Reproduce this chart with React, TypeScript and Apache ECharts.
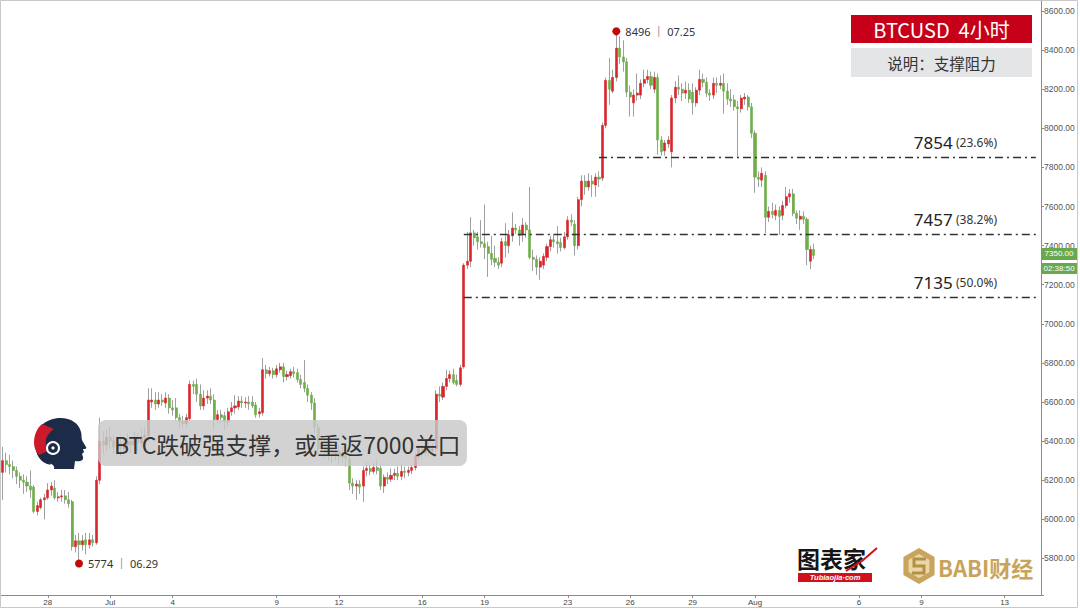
import { useEffect, useRef } from 'react';
import * as echarts from 'echarts';

// ---- data ----
const startTimeUTC = Date.UTC(2018, 5, 25, 20); // first 4h slot: Jun 25 20:00
const slotCount = 300;
const xTickDates = ['06-28', '07-01', '07-04', '07-09', '07-12', '07-16', '07-19', '07-23', '07-26', '07-29', '08-01', '08-06', '08-09', '08-13'];
const xTickLabels = ['28', 'Jul', '4', '9', '12', '16', '19', '23', '26', '29', 'Aug', '6', '9', '13'];

// [open, close, low, high] per 4-hour candle
const candles = [
  [6240,6300,6100,6370],[6300,6280,6240,6340],[6280,6270,6230,6330],[6270,6250,6210,6300],[6250,6220,6180,6270],[6220,6200,6160,6240],
  [6200,6190,6130,6230],[6190,6170,6140,6220],[6170,6150,6110,6250],[6165,6040,6030,6175],[6040,6070,6020,6090],[6060,6100,6050,6110],
  [6100,6110,6000,6130],[6110,6150,6100,6185],[6150,6170,6120,6190],[6160,6110,6100,6200],[6110,6115,6090,6140],[6115,6120,6090,6150],
  [6120,6100,6080,6150],[6100,6080,6060,6140],[6090,5860,5840,6100],[5860,5890,5830,5920],[5890,5870,5774,5930],[5870,5890,5840,5920],
  [5895,5870,5820,5930],[5870,5895,5850,5930],[5895,5880,5860,5920],[5880,6200,5870,6220],[6200,6400,6180,6520],[6400,6380,6330,6450],
  [6380,6420,6350,6460],[6420,6400,6360,6470],[6400,6370,6340,6430],[6370,6390,6330,6420],[6390,6360,6320,6420],[6360,6380,6330,6410],
  [6380,6400,6350,6440],[6400,6380,6340,6420],[6380,6410,6360,6450],[6410,6390,6350,6440],[6390,6420,6370,6460],[6420,6430,6380,6470],
  [6430,6610,6400,6670],[6600,6610,6570,6670],[6610,6590,6560,6650],[6590,6610,6570,6650],[6610,6600,6580,6640],[6595,6620,6570,6650],
  [6620,6570,6540,6640],[6570,6560,6530,6610],[6570,6520,6510,6620],[6520,6500,6465,6540],[6500,6490,6470,6530],[6490,6520,6470,6540],
  [6515,6690,6500,6710],[6690,6680,6640,6710],[6690,6640,6600,6720],[6640,6580,6560,6690],[6580,6620,6560,6660],[6620,6630,6590,6660],
  [6630,6610,6590,6670],[6610,6510,6455,6640],[6510,6535,6490,6560],[6535,6520,6490,6560],[6530,6500,6460,6550],[6500,6550,6480,6570],
  [6550,6570,6530,6600],[6570,6580,6540,6635],[6575,6605,6560,6630],[6605,6595,6570,6630],[6595,6600,6570,6625],[6600,6590,6560,6630],
  [6600,6580,6570,6630],[6585,6535,6520,6600],[6540,6550,6520,6570],[6545,6765,6530,6825],[6765,6745,6720,6790],[6745,6760,6730,6780],
  [6760,6740,6720,6775],[6740,6770,6725,6790],[6765,6780,6750,6800],[6780,6730,6700,6800],[6730,6740,6710,6760],[6735,6755,6720,6770],
  [6755,6745,6725,6780],[6750,6715,6700,6770],[6715,6690,6670,6740],[6700,6670,6650,6815],[6670,6635,6600,6690],[6635,6595,6560,6650],
  [6595,6470,6440,6620],[6470,6360,6330,6490],[6360,6390,6320,6420],[6390,6340,6310,6410],[6340,6360,6300,6390],[6360,6330,6290,6400],
  [6330,6350,6300,6380],[6350,6320,6280,6380],[6320,6340,6290,6370],[6340,6310,6270,6360],[6310,6185,6150,6330],[6185,6170,6130,6210],
  [6170,6180,6100,6200],[6180,6165,6130,6200],[6170,6250,6090,6270],[6250,6260,6220,6290],[6260,6245,6225,6280],[6245,6265,6230,6290],
  [6265,6250,6230,6300],[6260,6170,6150,6280],[6170,6215,6135,6230],[6215,6205,6180,6240],[6205,6225,6190,6260],[6225,6235,6200,6260],
  [6235,6220,6200,6270],[6220,6245,6200,6280],[6245,6240,6210,6270],[6240,6250,6220,6270],[6250,6265,6230,6280],[6265,6320,6250,6340],
  [6320,6360,6300,6380],[6360,6340,6310,6380],[6340,6370,6320,6400],[6370,6350,6320,6400],[6350,6360,6330,6390],[6360,6640,6340,6660],
  [6640,6630,6600,6680],[6625,6680,6610,6700],[6680,6720,6660,6765],[6720,6740,6700,6760],[6740,6700,6690,6770],[6710,6690,6680,6740],
  [6690,6775,6680,6790],[6780,7300,6770,7310],[7300,7320,7280,7470],[7320,7465,7290,7545],[7465,7440,7400,7480],[7445,7420,7380,7470],
  [7420,7410,7390,7530],[7410,7390,7330,7610],[7395,7360,7240,7420],[7360,7330,7300,7450],[7335,7315,7290,7400],[7315,7300,7280,7340],
  [7310,7420,7290,7440],[7420,7400,7340,7515],[7400,7455,7360,7480],[7450,7490,7420,7570],[7490,7480,7460,7510],[7480,7450,7400,7500],
  [7455,7505,7420,7540],[7505,7480,7440,7520],[7480,7340,7330,7700],[7340,7330,7270,7380],[7330,7290,7250,7350],[7290,7320,7225,7340],
  [7300,7345,7280,7360],[7340,7395,7320,7410],[7395,7430,7370,7450],[7430,7420,7390,7460],[7420,7410,7360,7500],[7415,7390,7370,7440],
  [7390,7445,7380,7470],[7445,7530,7430,7550],[7530,7520,7500,7560],[7510,7400,7350,7530],[7400,7635,7380,7650],[7635,7730,7600,7760],
  [7730,7700,7660,7760],[7700,7730,7680,7770],[7730,7715,7650,7760],[7710,7750,7650,7770],[7750,7740,7700,7780],[7745,8015,7730,8030],
  [8015,8245,8000,8260],[8245,8200,8120,8360],[8190,8260,8180,8300],[8260,8410,8240,8496],[8410,8365,8330,8470],[8365,8340,8290,8450],
  [8340,8185,8160,8360],[8185,8160,8060,8220],[8130,8170,8060,8200],[8170,8180,8140,8280],[8170,8230,8150,8250],[8230,8250,8210,8300],
  [8250,8265,8230,8300],[8265,8220,8200,8290],[8200,8260,8180,8290],[8260,7940,7865,8280],[7940,7880,7860,7960],[7885,7925,7860,7940],
  [7920,7940,7900,7960],[7880,8155,7800,8170],[8155,8210,8130,8240],[8210,8200,8170,8270],[8200,8180,8140,8230],[8180,8195,8150,8240],
  [8195,8150,8130,8230],[8185,8130,8070,8230],[8130,8195,8110,8210],[8195,8250,8170,8300],[8250,8235,8210,8280],[8235,8180,8160,8260],
  [8180,8170,8140,8200],[8170,8230,8150,8260],[8230,8220,8180,8260],[8220,8230,8200,8270],[8230,8190,8075,8280],[8190,8150,8120,8230],
  [8150,8140,8110,8200],[8145,8110,8090,8170],[8110,8100,7855,8140],[8100,8155,8080,8170],[8150,8160,8120,8180],[8160,8110,8090,8170],
  [8110,7975,7950,8130],[7975,7750,7670,7990],[7750,7740,7700,7780],[7735,7770,7700,7800],[7760,7545,7465,7780],[7545,7575,7520,7600],
  [7575,7560,7540,7620],[7555,7580,7530,7610],[7580,7550,7455,7600],[7555,7605,7530,7630],[7605,7650,7590,7700],[7650,7665,7620,7690],
  [7665,7565,7550,7690],[7565,7540,7510,7580],[7535,7550,7480,7580],[7550,7535,7510,7575],[7535,7380,7300,7545],[7320,7380,7280,7400],
  [7380,7350,7330,7410],
];

const fibLevels = [7854, 7457, 7135];
const fibRatios = ['23.6%', '38.2%', '50.0%'];
const fibStartSlots = [172, 133, 133];
const fibEndSlot = 298;

const highPoint = { value: 8496, date: '07.25' };
const lowPoint = { value: 5774, date: '06.29' };
const lastPrice = 7350;
const countdown = '02:38:50';

const titleText = 'BTCUSD  4小时';
const subtitleText = '说明：支撑阻力';
const headlineText = 'BTC跌破强支撑，或重返7000关口';

const UP = '#d9252b';
const DOWN = '#6fae48';
const FONT = "'Noto Sans', 'Noto Sans CJK SC', sans-serif";
const CJK = "'Noto Sans CJK SC', 'Noto Sans', sans-serif";

const pad = (n: number) => (n < 10 ? '0' + n : '' + n);
const categories: string[] = [];
for (let i = 0; i < slotCount; i++) {
  const d = new Date(startTimeUTC + i * 4 * 3600 * 1000);
  categories.push(`${pad(d.getUTCMonth() + 1)}-${pad(d.getUTCDate())} ${pad(d.getUTCHours())}:00`);
}
const isTick = (v: string) => v.endsWith(' 00:00') && xTickDates.includes(v.slice(0, 5));

const HEAD_D = 'M6 40 C-1 28 1 9 17 3 C31 -2 45 3 48 15 C49 19 48 22 50 25 L53 30 C54 32 52 32 50 32 L51 35 L49 37 L50 40 C51 44 46 45 42 44 L41 52 L21 52 C23 47 14 46 6 40 Z';
const RED_D = 'M9 7 C4 11 1 18 1 26 C1 31 3 35 6 38 L15 34 C13 30 12 26 13 22 C14 18 17 15 21 12 Z';
let shapesRegistered = false;

export default function App() {
  const ref = useRef<HTMLDivElement>(null);
  useEffect(() => {
    if (!ref.current) return;
    if (!shapesRegistered) {
      echarts.graphic.registerShape('headShape', echarts.graphic.extendPath(HEAD_D, {}));
      echarts.graphic.registerShape('headRed', echarts.graphic.extendPath(RED_D, {}));
      shapesRegistered = true;
    }
    const chart = echarts.init(ref.current, null, { renderer: 'svg' });

    let hiIdx = 0, loIdx = 0;
    candles.forEach((c, i) => {
      if (c[3] > candles[hiIdx][3]) hiIdx = i;
      if (c[2] < candles[loIdx][2]) loIdx = i;
    });
    const bodies = candles.map(([o, c]) => [o, c, Math.min(o, c), Math.max(o, c)]);

    const markLineData = fibLevels.map((lv, k) => [
      { coord: [categories[fibStartSlots[k]], lv] },
      { coord: [categories[fibEndSlot], lv] },
    ]);

    chart.setOption({
      animation: false,
      backgroundColor: '#ffffff',
      grid: { left: 1, right: 39, top: 0, bottom: 14, containLabel: false },
      xAxis: {
        type: 'category',
        data: categories,
        boundaryGap: true,
        axisLine: { show: true, lineStyle: { color: '#8a8a8a', width: 1 } },
        axisTick: {
          show: true,
          alignWithLabel: true,
          length: 3,
          interval: (_i: number, v: string) => isTick(v),
          lineStyle: { color: '#8a8a8a' },
        },
        axisLabel: {
          interval: (_i: number, v: string) => isTick(v),
          formatter: (v: string) => xTickLabels[xTickDates.indexOf(v.slice(0, 5))] ?? '',
          fontSize: 8,
          color: '#444',
          margin: 3,
          fontFamily: "'Liberation Sans', Arial, sans-serif",
        },
        splitLine: { show: false },
      },
      yAxis: {
        type: 'value',
        position: 'right',
        min: 5612.8,
        max: 8656.3,
        splitNumber: 15,
        scale: true,
        axisLine: { show: true, lineStyle: { color: '#8a8a8a', width: 1 } },
        axisTick: { show: true, length: 3, lineStyle: { color: '#8a8a8a' } },
        axisLabel: {
          formatter: (v: number) => (Math.abs(v % 200) < 0.001 ? v.toFixed(2) : ''),
          fontSize: 8.5,
          color: '#555',
          margin: 3,
          fontFamily: "'Liberation Sans', Arial, sans-serif",
        },
        splitLine: { show: false },
      },
      series: [
        {
          type: 'candlestick',
          name: 'wick',
          data: candles,
          barWidth: 1,
          silent: true,
          itemStyle: { color: '#a0a0a0', color0: '#a0a0a0', borderColor: '#a0a0a0', borderColor0: '#a0a0a0', borderWidth: 1 },
        },
        {
          type: 'candlestick',
          name: 'body',
          data: bodies,
          barWidth: 2.6,
          itemStyle: { color: UP, color0: DOWN, borderColor: UP, borderColor0: DOWN, borderWidth: 0.6 },
          markLine: {
            silent: true,
            symbol: ['none', 'none'],
            animation: false,
            lineStyle: { type: [8, 4, 2, 4], color: '#333', width: 1.4 },
            label: { show: false },
            data: markLineData,
          },
          markPoint: {
            symbol: 'circle',
            symbolSize: 8,
            itemStyle: { color: '#c10a0a' },
            label: {
              show: true,
              position: 'right',
              distance: 5,
              color: '#333',
              fontSize: 11,
              fontFamily: FONT,
            },
            data: [
              { coord: [categories[hiIdx], highPoint.value], label: { formatter: `${highPoint.value} │ ${highPoint.date}` } },
              { coord: [categories[loIdx], lowPoint.value], label: { formatter: `${lowPoint.value} │ ${lowPoint.date}` } },
            ],
          },
        },
      ],
    });

    const yTag = chart.convertToPixel({ yAxisIndex: 0 }, lastPrice) as number;
    const fibTexts = fibLevels.map((lv, k) => {
      const yl = chart.convertToPixel({ yAxisIndex: 0 }, lv) as number;
      return {
        type: 'text',
        x: 997,
        y: yl - 6,
        style: {
          text: `{a|${lv}} {b|(${fibRatios[k]})}`,
          align: 'right',
          verticalAlign: 'bottom',
          rich: {
            a: { fontSize: 17, fill: '#222', fontFamily: FONT },
            b: { fontSize: 12, fill: '#333', fontFamily: FONT },
          },
        },
      };
    });

    const hex = (cx: number, cy: number, r: number) => {
      const pts: number[][] = [];
      for (let k = 0; k < 6; k++) {
        const a = Math.PI / 6 + (k * Math.PI) / 3;
        pts.push([cx + r * Math.cos(a), cy + r * Math.sin(a)]);
      }
      return pts;
    };

    chart.setOption({
      graphic: [
        { type: 'rect', silent: true, shape: { x: 0.5, y: 0.5, width: 1077, height: 607 }, style: { fill: 'none', stroke: '#c8c8c8', lineWidth: 1 }, z: 100 },
        ...fibTexts,
        // title boxes
        { type: 'rect', shape: { x: 851, y: 15, width: 181, height: 28 }, style: { fill: '#c70019' } },
        { type: 'text', x: 941.5, y: 29.5, style: { text: titleText, fill: '#fff', font: `20px ${CJK}`, align: 'center', verticalAlign: 'middle' } },
        { type: 'rect', shape: { x: 851, y: 48, width: 181, height: 29 }, style: { fill: '#e3e5e7' } },
        { type: 'text', x: 941.5, y: 62.5, style: { text: subtitleText, fill: '#333', font: `15.5px ${CJK}`, align: 'center', verticalAlign: 'middle' } },
        // headline box
        { type: 'rect', shape: { x: 98, y: 420, width: 369, height: 46, r: 8 }, style: { fill: 'rgba(200,200,200,0.82)' }, z: 50 },
        { type: 'text', x: 114, y: 444, z: 51, style: { text: headlineText, fill: '#333', font: `23px ${CJK}`, verticalAlign: 'middle' } },
        // head logo
        {
          type: 'group', x: 33, y: 417, z: 52,
          children: [
            { type: 'arc', shape: { cx: 20, cy: 31, r: 15, startAngle: Math.PI * 0.55, endAngle: Math.PI * 1.05 }, style: { stroke: '#1c2b47', lineWidth: 4, fill: 'none' } },
            { type: 'headShape', style: { fill: '#1c2b47' } },
            { type: 'headRed', style: { fill: '#cc1a2a' } },
            { type: 'circle', shape: { cx: 20, cy: 31, r: 6 }, style: { fill: '#1c2b47', stroke: '#ffffff', lineWidth: 2 } },
            { type: 'circle', shape: { cx: 20, cy: 31, r: 1.6 }, style: { fill: '#ffffff' } },
          ],
        },
        // last price tag
        { type: 'rect', shape: { x: 1041, y: yTag - 7.5, width: 36, height: 12 }, style: { fill: '#6aa84f' }, z: 60 },
        { type: 'text', x: 1059, y: yTag - 1.5, z: 61, style: { text: lastPrice.toFixed(2), fill: '#fff', font: "8px 'Liberation Sans', Arial, sans-serif", align: 'center', verticalAlign: 'middle' } },
        { type: 'rect', shape: { x: 1041, y: yTag + 7.5, width: 36, height: 11 }, style: { fill: '#6aa84f' }, z: 60 },
        { type: 'text', x: 1059, y: yTag + 13, z: 61, style: { text: countdown, fill: '#fff', font: "8px 'Liberation Sans', Arial, sans-serif", align: 'center', verticalAlign: 'middle' } },
        // 图表家 logo
        { type: 'text', x: 797, y: 558, style: { text: '图表家', fill: '#151515', font: `bold 23px ${CJK}`, verticalAlign: 'middle' } },
        { type: 'polyline', shape: { points: [[846, 571], [862, 561], [877, 548]] }, style: { stroke: '#d0101a', lineWidth: 2, fill: 'none' } },
        { type: 'rect', shape: { x: 798, y: 573, width: 74, height: 9 }, style: { fill: '#d0101a' } },
        { type: 'text', x: 835, y: 577.8, style: { text: 'Tubiaojia·com', fill: '#fff', font: "italic bold 7.5px 'Liberation Sans', Arial, sans-serif", align: 'center', verticalAlign: 'middle' } },
        // BABI logo
        { type: 'polygon', shape: { points: hex(919, 566, 18) }, style: { fill: '#c9a45d' } },
        { type: 'polygon', shape: { points: hex(919, 566, 12) }, style: { fill: '#ead7a8' } },
        { type: 'polyline', shape: { points: [[926, 559], [914, 559], [914, 566], [924, 566], [924, 573], [912, 573]] }, style: { stroke: '#b68f45', lineWidth: 3, fill: 'none' } },
        { type: 'text', x: 938, y: 567, style: { text: 'BABI财经', fill: '#c9a35a', font: `bold 22px ${CJK}`, verticalAlign: 'middle' } },
      ],
    });

    return () => chart.dispose();
  }, []);
  return <div ref={ref} style={{ position: 'fixed', left: 0, top: 0, width: 1080, height: 609, background: '#fff' }} />;
}
